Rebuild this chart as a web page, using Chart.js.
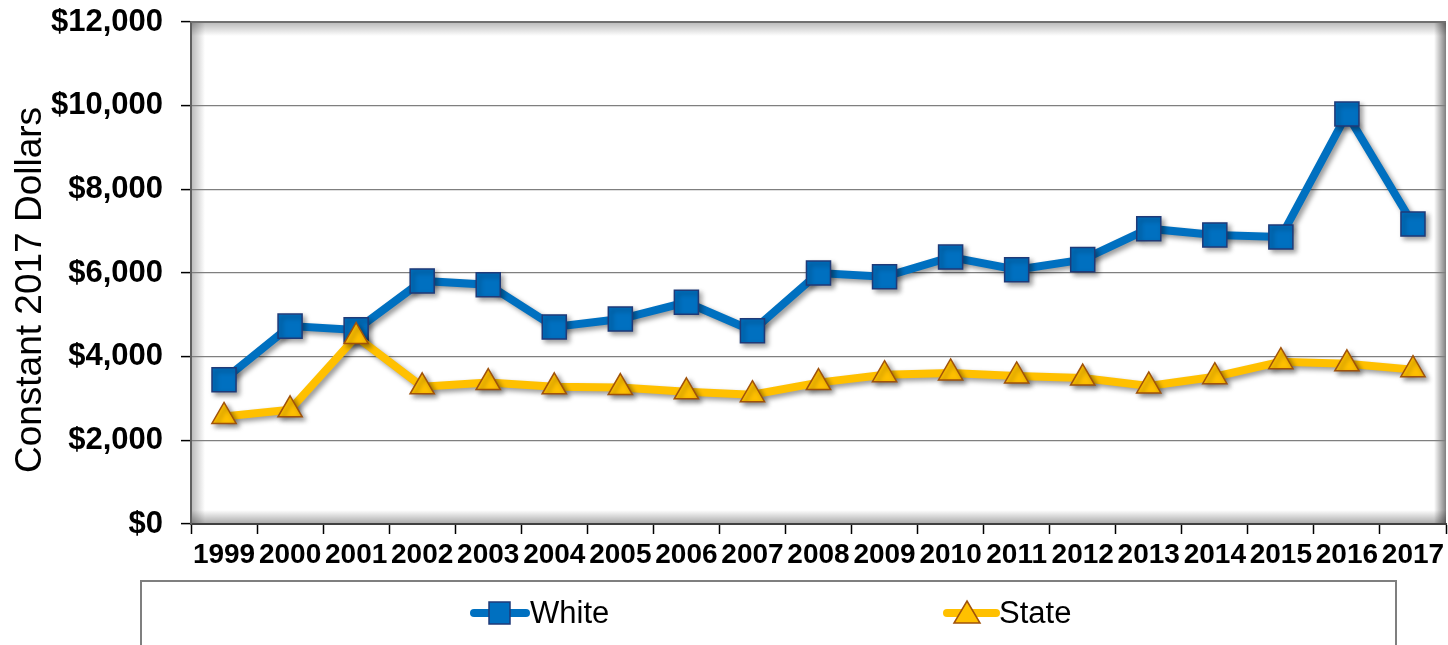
<!DOCTYPE html>
<html><head><meta charset="utf-8">
<script src="https://cdn.jsdelivr.net/npm/chart.js@4/dist/chart.umd.min.js"></script>
<style>html,body{margin:0;padding:0;background:#fff;}canvas{display:block;}</style>
</head><body>
<canvas id="c" width="1448" height="645"></canvas>
<script>
const years = ['1999','2000','2001','2002','2003','2004','2005','2006','2007','2008','2009','2010','2011','2012','2013','2014','2015','2016','2017'];
const whiteValues = [3450,4730,4640,5810,5720,4710,4900,5300,4620,6000,5910,6380,6080,6320,7060,6910,6860,9800,7170];
const stateValues = [2570,2730,4480,3280,3380,3280,3260,3160,3090,3380,3570,3610,3540,3490,3300,3520,3880,3830,3690];
const yTicks = [0,2000,4000,6000,8000,10000,12000];
const seriesNames = ['White','State'];
const yTitle = 'Constant 2017 Dollars';

const FONT = '"Liberation Sans", Arial, sans-serif';

const bgPlugin = {
  id: 'bg',
  beforeDraw(chart) {
    const {ctx, chartArea: a} = chart;
    ctx.save();
    ctx.fillStyle = '#ffffff';
    ctx.fillRect(a.left, a.top, a.right - a.left, a.bottom - a.top);
    const edge = (x0,y0,x1,y1,rx,ry,rw,rh,alpha) => {
      const g = ctx.createLinearGradient(x0,y0,x1,y1);
      g.addColorStop(0,'rgba(0,0,0,'+alpha+')');
      g.addColorStop(1,'rgba(0,0,0,0)');
      ctx.fillStyle = g; ctx.fillRect(rx,ry,rw,rh);
    };
    const w = a.right - a.left, h = a.bottom - a.top;
    edge(a.left,0,a.left+14,0,a.left,a.top,14,h,0.28);
    edge(0,a.top,0,a.top+14,a.left,a.top,w,14,0.28);
    edge(a.right,0,a.right-12,0,a.right-12,a.top,12,h,0.5);
    edge(0,a.bottom,0,a.bottom-14,a.left,a.bottom-14,w,14,0.35);
    ctx.restore();
  },
  afterDraw(chart) {
    const {ctx, chartArea: a} = chart;
    ctx.save();
    ctx.strokeStyle = '#707070'; ctx.lineWidth = 2;
    ctx.beginPath(); ctx.moveTo(a.left, a.top); ctx.lineTo(a.right, a.top); ctx.stroke();
    ctx.fillStyle = '#000';
    ctx.font = '37px ' + FONT;
    ctx.textAlign = 'center'; ctx.textBaseline = 'middle';
    ctx.translate(31, 290); ctx.rotate(-Math.PI/2);
    ctx.fillText(yTitle, 0, 0);
    ctx.restore();
    // legend
    ctx.save();
    ctx.strokeStyle = '#7f7f7f'; ctx.lineWidth = 2;
    ctx.beginPath();
    ctx.moveTo(141, 660); ctx.lineTo(141, 581); ctx.lineTo(1396, 581); ctx.lineTo(1396, 660);
    ctx.stroke();
    const ly = 613;
    ctx.lineCap = 'round';
    ctx.strokeStyle = '#0070C0'; ctx.lineWidth = 8;
    ctx.beginPath(); ctx.moveTo(474, ly); ctx.lineTo(526, ly); ctx.stroke();
    ctx.fillStyle = '#0070C0'; ctx.strokeStyle = '#1F3A78'; ctx.lineWidth = 1.5;
    ctx.fillRect(489, ly-11, 21, 22); ctx.strokeRect(489, ly-11, 21, 22);
    ctx.strokeStyle = '#FFC000'; ctx.lineWidth = 8;
    ctx.beginPath(); ctx.moveTo(947, ly); ctx.lineTo(996, ly); ctx.stroke();
    ctx.fillStyle = '#FFC000'; ctx.strokeStyle = '#A0520A'; ctx.lineWidth = 1.5;
    ctx.beginPath(); ctx.moveTo(967, ly-12); ctx.lineTo(980, ly+10); ctx.lineTo(954, ly+10); ctx.closePath();
    ctx.fill(); ctx.stroke();
    ctx.fillStyle = '#000'; ctx.font = '31px ' + FONT;
    ctx.textAlign = 'left'; ctx.textBaseline = 'middle';
    ctx.fillText(seriesNames[0], 530, ly+1);
    ctx.fillText(seriesNames[1], 999, ly+1);
    ctx.restore();
  }
};

const shadowPlugin = {
  id: 'shadow',
  beforeDatasetDraw(chart) {
    const ctx = chart.ctx;
    ctx.save();
    ctx.shadowColor = 'rgba(0,0,0,0.4)';
    ctx.shadowBlur = 5; ctx.shadowOffsetX = 3; ctx.shadowOffsetY = 3;
  },
  afterDatasetDraw(chart) { chart.ctx.restore(); }
};

new Chart(document.getElementById('c'), {
  type: 'line',
  data: {
    labels: years,
    datasets: [
      { label: seriesNames[0], data: whiteValues, order: 1,
        borderColor: '#0070C0', borderWidth: 8, backgroundColor: '#0070C0',
        pointStyle: 'rect', pointRadius: 17, pointHoverRadius: 17,
        pointBackgroundColor: '#0070C0', pointBorderColor: '#1F3A78', pointBorderWidth: 1.5,
        tension: 0, fill: false, clip: false },
      { label: seriesNames[1], data: stateValues, order: 0,
        borderColor: '#FFC000', borderWidth: 8, backgroundColor: '#FFC000',
        pointStyle: 'triangle', pointRadius: 14, pointHoverRadius: 14,
        pointBackgroundColor: '#FFC000', pointBorderColor: '#A0520A', pointBorderWidth: 1.5,
        tension: 0, fill: false, clip: false }
    ]
  },
  options: {
    responsive: false, animation: false, devicePixelRatio: 1,
    layout: { autoPadding: false, padding: { left: 0, top: 22, right: 2, bottom: 0 } },
    plugins: { legend: { display: false }, tooltip: { enabled: false } },
    scales: {
      x: {
        offset: true,
        afterFit(s) { s.height = 121; s.paddingLeft = 0; s.paddingRight = 0; },
        grid: { offset: true, drawOnChartArea: false, drawTicks: true, tickLength: 10, tickColor: '#000', tickWidth: 1.5 },
        border: { color: '#404040', width: 2 },
        ticks: { color: '#000', font: { family: FONT, size: 28, weight: 'bold' }, padding: 4, maxRotation: 0, autoSkip: false }
      },
      y: {
        min: 0, max: 12000,
        afterFit(s) { s.width = 191; s.paddingTop = 0; s.paddingBottom = 0; },
        afterBuildTicks(s) { s.ticks = yTicks.map(v => ({ value: v })); },
        grid: { color: '#7f7f7f', lineWidth: 1.2, drawTicks: true, tickLength: 10, tickColor: '#000', tickWidth: 1.5 },
        border: { color: '#606060', width: 2 },
        ticks: { color: '#000', font: { family: FONT, size: 31, weight: 'bold' }, padding: 18,
          callback: v => '$' + v.toLocaleString('en-US') }
      }
    }
  },
  plugins: [bgPlugin, shadowPlugin]
});
</script>
</body></html>
